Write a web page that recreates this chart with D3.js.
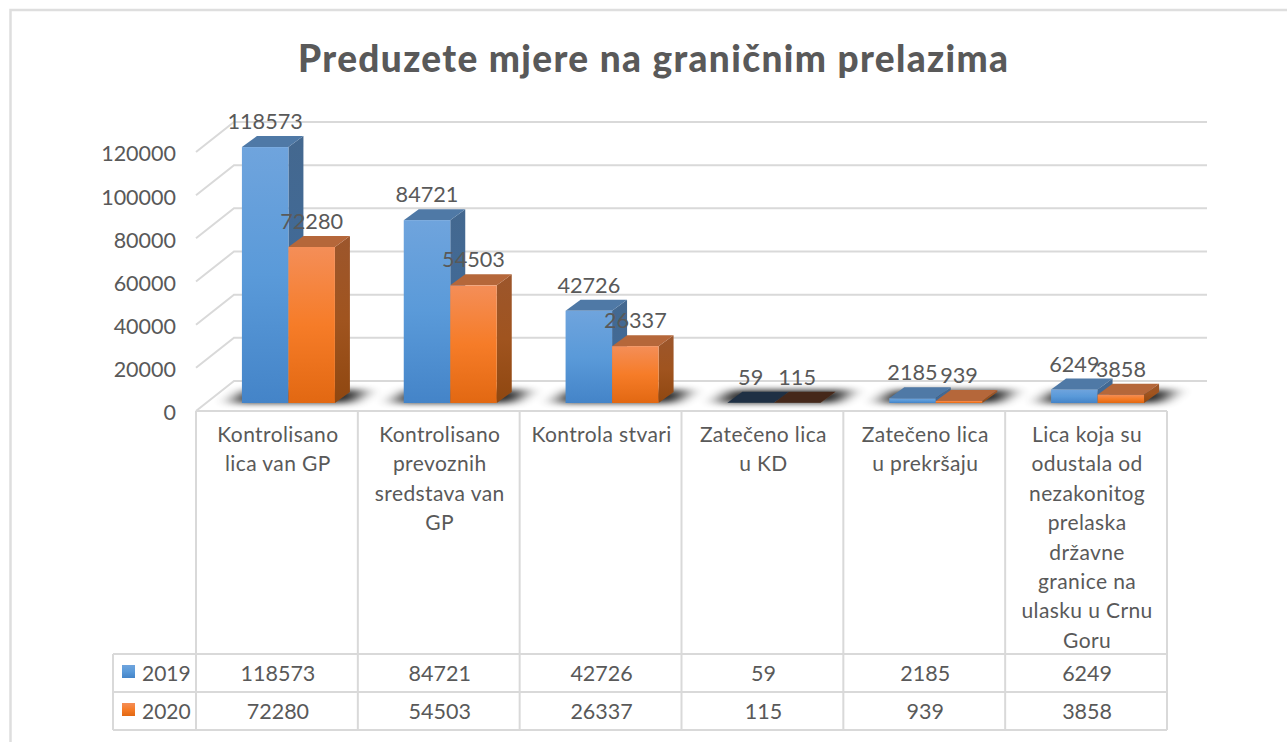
<!DOCTYPE html>
<html>
<head>
<meta charset="utf-8">
<script src="https://cdn.jsdelivr.net/npm/d3@7"></script>
<style>
  body { margin: 0; background: #fff; }
  text { font-family: Lato, "Open Sans", sans-serif; fill: #595959; }
</style>
</head>
<body>
<div id="chart"></div>
<script>
const titleText = "Preduzete mjere na graničnim prelazima";
const categories = [
	["Kontrolisano", "lica van GP"],
	["Kontrolisano", "prevoznih", "sredstava van", "GP"],
	["Kontrola stvari"],
	["Zatečeno lica", "u KD"],
	["Zatečeno lica", "u prekršaju"],
	["Lica koja su", "odustala od", "nezakonitog", "prelaska", "državne", "granice na", "ulasku u Crnu", "Goru"],
];
const seriesNames = ["2019", "2020"];
const values2019 = [118573, 84721, 42726, 59, 2185, 6249];
const values2020 = [72280, 54503, 26337, 115, 939, 3858];
const yTicks = [0, 20000, 40000, 60000, 80000, 100000, 120000];

const width = 1287;
const height = 742;
const gridColor = "#d9d9d9";

const svg = d3.select("#chart").append("svg").attr("width", width).attr("height", height).style("display", "block");
const defs = svg.append("defs");

function addGradient(id, stops) {
	const g = defs.append("linearGradient").attr("id", id).attr("x1", 0).attr("y1", 0).attr("x2", 0).attr("y2", 1);
	stops.forEach((s, i) => g.append("stop").attr("offset", i / (stops.length - 1)).attr("stop-color", s));
}
addGradient("front-0", ["#6fa4dd", "#5a9ad9", "#4484c8"]);
addGradient("front-1", ["#f48e58", "#f67c28", "#e26812"]);
addGradient("side-0", ["#44688f", "#416a97", "#3b6a9c"]);
addGradient("side-1", ["#9c562c", "#a0541f", "#8f4710"]);
defs.append("filter").attr("id", "blur").attr("filterUnits", "userSpaceOnUse")
	.attr("x", 0).attr("y", 340).attr("width", width).attr("height", 100)
	.append("feGaussianBlur").attr("stdDeviation", "9 3");

const topColors = ["#4f79a6", "#b5673a"];
const darkTop = ["#1f3044", "#45281a"];

// frame
svg.append("path")
	.attr("d", "M10.5,742V10H1287")
	.attr("fill", "none").attr("stroke", "#dedede").attr("stroke-width", 2.5);

svg.append("text").attr("x", 653).attr("y", 72).attr("text-anchor", "middle")
	.attr("font-size", 37).attr("font-weight", 900).attr("textLength", 710).text(titleText);

// scales
const tableLeft = 196, tableRight = 1167;
const x = d3.scaleBand().domain(d3.range(categories.length)).range([tableLeft, tableRight]);
const yFront = d3.scaleLinear().domain([0, 120000]).range([411, 152]);
const yBar = d3.scaleLinear().domain([0, 120000]).range([403, 144]);
const backDx = 38, backDy = -30;
const barW = 46.5, barShift = 11.5, depthX = 15, depthY = 11;

// walls and floor
const grid = svg.append("g").attr("fill", "none").attr("stroke", gridColor).attr("stroke-width", 2);
yTicks.forEach((t) => {
	const y0 = yFront(t);
	grid.append("path").attr("d", `M${tableLeft},${y0}L${tableLeft + backDx},${y0 + backDy}H${tableRight + backDx + 2}`);
});

// shadows on the floor
const shadows = svg.append("g").attr("filter", "url(#blur)").attr("opacity", 0.85);
categories.forEach((c, i) => {
	const cx = x(i) + x.bandwidth() / 2 + barShift;
	const l = cx - barW, r = cx + barW, b = yBar(0);
	shadows.append("path")
		.attr("d", `M${l - 12},${b}L${l + 4},${b - 13}H${r + 32}L${r + 16},${b}Z`)
		.attr("fill", "#000");
});

// bars
[values2019, values2020].forEach((vals, s) => {
	const g = svg.append("g");
	vals.forEach((v, i) => {
		const bx = x(i) + x.bandwidth() / 2 + barShift - barW + s * barW;
		const yt = yBar(v), yb = yBar(0);
		g.append("path").attr("fill", `url(#side-${s})`)
			.attr("d", `M${bx + barW},${yt}l${depthX},${-depthY}V${yb - depthY}l${-depthX},${depthY}Z`);
		g.append("path").attr("fill", v < 500 ? darkTop[s] : topColors[s])
			.attr("d", `M${bx},${yt}l${depthX},${-depthY}h${barW}l${-depthX},${depthY}Z`);
		g.append("rect").attr("x", bx).attr("y", yt).attr("width", barW).attr("height", yb - yt)
			.attr("fill", v < 500 ? darkTop[s] : `url(#front-${s})`);
	});
});

// data labels
[values2019, values2020].forEach((vals, s) => {
	vals.forEach((v, i) => {
		const bx = x(i) + x.bandwidth() / 2 + barShift - barW + s * barW;
		svg.append("text").attr("x", bx + barW / 2).attr("y", yBar(v) - 18)
			.attr("text-anchor", "middle").attr("font-size", 21.7).text(v);
	});
});

// y axis labels
const yAxis = svg.append("g").attr("transform", "translate(176,2)")
	.call(d3.axisLeft(yFront).tickValues(yTicks).tickFormat(d3.format("d")).tickSize(0).tickPadding(0));
yAxis.select(".domain").remove();
yAxis.selectAll("text").attr("font-size", 21.5).attr("font-family", "Lato").style("fill", "#595959");

// data table
const rowY = [411, 654, 692, 730];
const legendLeft = 113;
const table = svg.append("g").attr("stroke", gridColor).attr("stroke-width", 2).attr("fill", "none");
table.append("path").attr("d", `M${tableLeft},${rowY[0]}H${tableRight}`);
table.append("path").attr("d", `M${legendLeft},${rowY[1]}H${tableRight}`);
table.append("path").attr("d", `M${legendLeft},${rowY[2]}H${tableRight}`);
table.append("path").attr("d", `M${legendLeft},${rowY[3]}H${tableRight}`);
table.append("path").attr("d", `M${legendLeft},${rowY[1]}V${rowY[3]}`);
d3.range(categories.length + 1).forEach((i) => {
	const vx = i < categories.length ? x(i) : tableRight;
	table.append("path").attr("d", `M${vx},${rowY[0]}V${rowY[3]}`);
});

categories.forEach((lines, i) => {
	const cx = x(i) + x.bandwidth() / 2 + 1;
	lines.forEach((line, j) => {
		svg.append("text").attr("x", cx).attr("y", 442 + j * 29.4).attr("text-anchor", "middle")
			.attr("font-size", 21).attr("letter-spacing", 0.4).text(line);
	});
});

[values2019, values2020].forEach((vals, s) => {
	const cy = (rowY[s + 1] + rowY[s + 2]) / 2 + 7.5;
	svg.append("rect").attr("x", 122).attr("y", cy - 15.5).attr("width", 13).attr("height", 13)
		.attr("fill", `url(#front-${s})`);
	svg.append("text").attr("x", 142).attr("y", cy).attr("font-size", 21).text(seriesNames[s]);
	vals.forEach((v, i) => {
		svg.append("text").attr("x", x(i) + x.bandwidth() / 2 + 1).attr("y", cy).attr("text-anchor", "middle")
			.attr("font-size", 21.5).text(v);
	});
});
</script>
</body>
</html>
